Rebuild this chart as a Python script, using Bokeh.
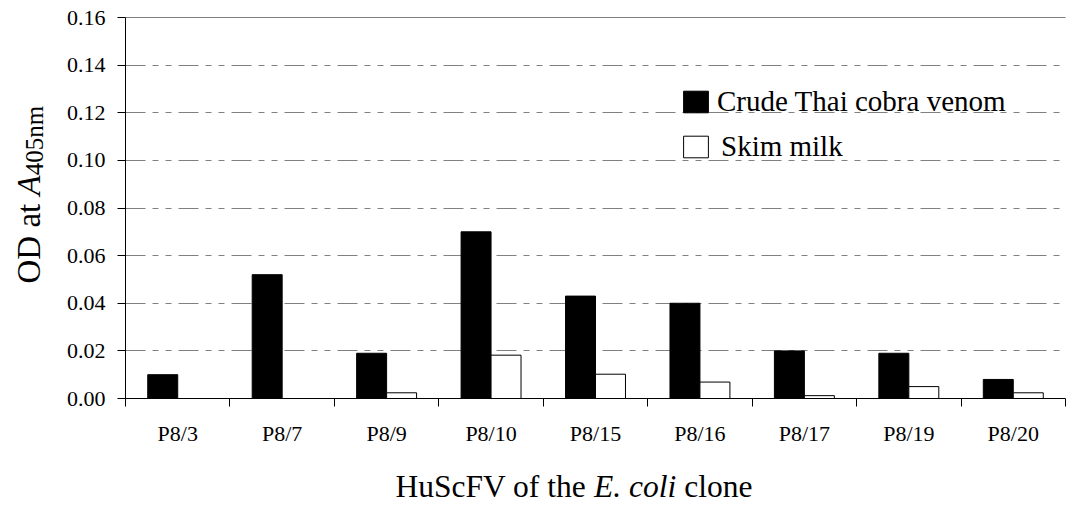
import numpy as np
from bokeh.plotting import figure
from bokeh.models import (ColumnDataSource, Range1d, FixedTicker, Legend, LegendItem,
                          Label, Grid, NumeralTickFormatter)
from bokeh.transform import dodge
from bokeh.embed import file_html
from bokeh.resources import INLINE

# ---- data ----
categories = ["P8/3", "P8/7", "P8/9", "P8/10", "P8/15", "P8/16", "P8/17", "P8/19", "P8/20"]
crude_venom = [0.010, 0.052, 0.019, 0.070, 0.043, 0.040, 0.020, 0.019, 0.008]
skim_milk = [0.000, 0.000, 0.0024, 0.0182, 0.0102, 0.0069, 0.0012, 0.0050, 0.0024]
y_ticks = [0.00, 0.02, 0.04, 0.06, 0.08, 0.10, 0.12, 0.14, 0.16]
series_names = ["Crude Thai cobra venom", "Skim milk"]

FONT = "Liberation Serif"
W, H = 1067, 509
n = len(categories)
centers = [i + 0.5 for i in range(n)]

# pixel layout of the plotting area inside the canvas
PX_L, PX_R, PX_T, PX_B = 125, 1065, 17, 398
ymin, ymax = y_ticks[0], y_ticks[-1]
ux = (PX_R - PX_L) / n
uy = (PX_B - PX_T) / (ymax - ymin)
x_range = Range1d(-PX_L / ux, n + (W - PX_R) / ux)
y_range = Range1d(ymin - (H - PX_B) / uy, ymax + PX_T / uy)

p = figure(width=W, height=H, output_backend="svg", toolbar_location=None,
           x_range=x_range, y_range=y_range,
           min_border_left=0, min_border_right=0, min_border_top=0, min_border_bottom=0)
p.outline_line_color = None
p.background_fill_color = "white"
p.border_fill_color = "white"

src = ColumnDataSource(dict(x=centers, crude=crude_venom, skim=skim_milk))
bar_w = 0.287
r1 = p.vbar(x=dodge("x", -bar_w / 2, range=p.x_range), top="crude", width=bar_w,
            fill_color="black", line_color="black", line_width=1, source=src)
r2 = p.vbar(x=dodge("x", bar_w / 2, range=p.x_range), top="skim", width=bar_w,
            fill_color="white", line_color="black", line_width=1, source=src)

# grid: dashed inner lines + solid top line, limited to the plotting area
p.xgrid.grid_line_color = None
g = p.ygrid[0]
g.ticker = FixedTicker(ticks=y_ticks[1:-1])
g.grid_line_color = "#808080"
g.grid_line_dash = "20 7 6 7 6 7"
g.grid_line_width = 1
g.cross_bounds = (0, n)
gtop = Grid(dimension=1, ticker=FixedTicker(ticks=[ymax]), grid_line_color="#808080",
            grid_line_width=1, cross_bounds=(0, n))
p.add_layout(gtop)

# x axis (drawn at y = 0)
xa = p.xaxis[0]
xa.fixed_location = ymin
xa.bounds = (0, n)
xa.ticker = FixedTicker(ticks=centers, minor_ticks=list(range(n + 1)))
xa.major_label_overrides = {c: lab for c, lab in zip(centers, categories)}
xa.major_tick_out = 0
xa.major_tick_in = 0
xa.minor_tick_out = 8
xa.minor_tick_in = 0
xa.minor_tick_line_color = "black"
xa.axis_line_color = "black"
xa.major_label_standoff = 14
xa.major_label_text_font = FONT
xa.major_label_text_font_size = "22px"
xa.major_label_text_color = "black"

# y axis (drawn at x = 0)
ya = p.yaxis[0]
ya.fixed_location = 0
ya.bounds = (ymin, ymax)
ya.ticker = FixedTicker(ticks=y_ticks)
ya.formatter = NumeralTickFormatter(format="0.00")
ya.major_tick_out = 8
ya.major_tick_in = 0
ya.minor_tick_out = 0
ya.minor_tick_in = 0
ya.major_tick_line_color = "black"
ya.axis_line_color = "black"
ya.major_label_standoff = 12
ya.major_label_text_font = FONT
ya.major_label_text_font_size = "22px"
ya.major_label_text_color = "black"

# legends (two single-item legends for exact placement)
for name, rend, loc, standoff in [(series_names[0], r1, (680, 391), 6),
                                  (series_names[1], r2, (680, 346), 10)]:
    lg = Legend(items=[LegendItem(label=name, renderers=[rend])], location=loc,
                background_fill_alpha=0, border_line_color=None, padding=0, margin=0,
                glyph_width=31, glyph_height=27, label_standoff=standoff,
                label_text_font=FONT, label_text_font_size="29px",
                label_text_color="black")
    p.add_layout(lg, "center")

# y axis title: "OD at A405nm" (A italic, 405nm subscript)
FY, SY = 33, 25
ybase = 226
yx = 28
p.add_layout(Label(x=yx, y=ybase, x_units="screen", y_units="screen", text="OD at",
                   angle=np.pi / 2, text_font=FONT, text_font_size=f"{FY}px",
                   text_baseline="alphabetic", text_align="left", text_color="black"))
p.add_layout(Label(x=yx, y=ybase + 2.666 * FY, x_units="screen", y_units="screen", text="A",
                   angle=np.pi / 2, text_font=FONT, text_font_size=f"{FY}px",
                   text_font_style="italic",
                   text_baseline="alphabetic", text_align="left", text_color="black"))
p.add_layout(Label(x=yx + 6, y=ybase + 2.666 * FY + 0.611 * FY, x_units="screen", y_units="screen",
                   text="405nm", angle=np.pi / 2, text_font=FONT, text_font_size=f"{SY}px",
                   text_baseline="alphabetic", text_align="left", text_color="black"))

# x axis title: "HuScFV of the E. coli clone"
FX = 31.5
xb = 395
yb = 23
p.add_layout(Label(x=xb, y=yb, x_units="screen", y_units="screen", text="HuScFV of the",
                   text_font=FONT, text_font_size=f"{FX}px", text_baseline="alphabetic",
                   text_align="left", text_color="black"))
p.add_layout(Label(x=xb + 6.305 * FX, y=yb, x_units="screen", y_units="screen", text="E. coli",
                   text_font=FONT, text_font_size=f"{FX}px", text_font_style="italic",
                   text_baseline="alphabetic", text_align="left", text_color="black"))
p.add_layout(Label(x=xb + (6.305 + 2.611 + 0.25) * FX, y=yb, x_units="screen", y_units="screen",
                   text="clone", text_font=FONT, text_font_size=f"{FX}px",
                   text_baseline="alphabetic", text_align="left", text_color="black"))

open("out.html", "w").write(file_html(p, INLINE))
